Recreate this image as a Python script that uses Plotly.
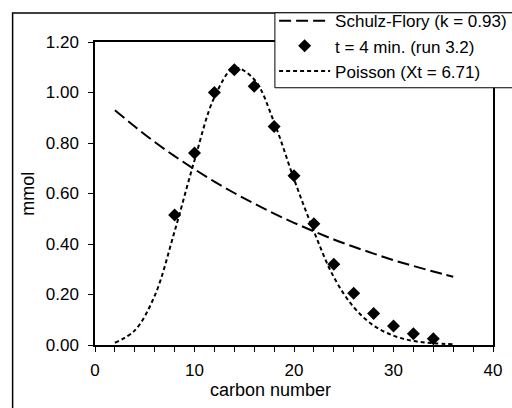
import plotly.graph_objects as go

# Schulz-Flory distribution (k = 0.93), even carbon numbers
carbon_sf = [2, 4, 6, 8, 10, 12, 14, 16, 18, 20, 22, 24, 26, 28, 30, 32, 34, 36]
mmol_sf = [0.930, 0.865, 0.804, 0.748, 0.696, 0.647, 0.602, 0.560, 0.520,
           0.484, 0.450, 0.418, 0.389, 0.362, 0.336, 0.313, 0.291, 0.270]

# Measured product distribution, t = 4 min (run 3.2)
carbon_obs = [8, 10, 12, 14, 16, 18, 20, 22, 24, 26, 28, 30, 32, 34]
mmol_obs = [0.515, 0.76, 1.00, 1.09, 1.025, 0.865, 0.67, 0.48,
            0.32, 0.205, 0.125, 0.075, 0.045, 0.025]

# Poisson distribution (Xt = 6.71)
carbon_poisson = [2, 4, 6, 8, 10, 12, 14, 16, 18, 20, 22, 24, 26, 28, 30, 32, 34, 36]
mmol_poisson = [0.009, 0.058, 0.195, 0.45, 0.731, 0.981, 1.097, 1.052, 0.882,
                0.657, 0.45, 0.269, 0.150, 0.077, 0.037, 0.016, 0.007, 0.003]

FONT = "Liberation Sans, Arial, sans-serif"

fig = go.Figure()
fig.add_trace(go.Scatter(
    x=carbon_sf, y=mmol_sf, mode="lines", name="Schulz-Flory (k = 0.93)",
    line=dict(color="black", width=2, dash="12px,5px", shape="spline"),
    legendrank=1,
))
fig.add_trace(go.Scatter(
    x=carbon_poisson, y=mmol_poisson, mode="lines", name="Poisson (Xt = 6.71)",
    line=dict(color="black", width=2, dash="4px,3px", shape="spline"),
    legendrank=3,
))
fig.add_trace(go.Scatter(
    x=carbon_obs, y=mmol_obs, mode="markers", name="t = 4 min. (run 3.2)",
    marker=dict(symbol="diamond", size=10, color="black"),
    legendrank=2,
))

fig.update_layout(
    width=512, height=408,
    margin=dict(l=95, r=19, t=42, b=63, autoexpand=False),
    paper_bgcolor="white", plot_bgcolor="white",
    font=dict(family=FONT, size=17, color="black"),
    showlegend=True,
    legend=dict(
        x=0.450, y=1.128, xanchor="left", yanchor="top",
        bgcolor="rgba(0,0,0,0)", borderwidth=0,
        font=dict(family=FONT, size=17, color="black"),
        itemwidth=51, tracegroupgap=0,
    ),
    xaxis=dict(
        range=[0, 40], tickmode="linear", tick0=0, dtick=10,
        ticks="outside", ticklen=5, tickwidth=1, tickcolor="black",
        minor=dict(dtick=2, ticks="outside", ticklen=5, tickwidth=1, tickcolor="black"),
        showgrid=False, zeroline=False,
        showline=True, linecolor="black", linewidth=1.5, mirror=True,
        ticklabelstandoff=4,
    ),
    yaxis=dict(
        range=[0, 1.2], tickmode="linear", tick0=0, dtick=0.2, tickformat=".2f",
        ticks="outside", ticklen=5, tickwidth=1, tickcolor="black",
        showgrid=False, zeroline=False,
        showline=True, linecolor="black", linewidth=1.5, mirror=True,
        ticklabelstandoff=6,
    ),
    annotations=[
        dict(text="carbon number", xref="paper", yref="paper", x=0.442, y=-0.150,
             xanchor="center", yanchor="middle", showarrow=False,
             font=dict(family=FONT, size=18, color="black")),
        dict(text="mmol", xref="paper", yref="paper", x=-0.170, y=0.5,
             xanchor="center", yanchor="middle", textangle=-90, showarrow=False,
             font=dict(family=FONT, size=18, color="black")),
    ],
    shapes=[
        # chart-area frame (left and top edges; the rest runs off the page)
        dict(type="rect", xref="paper", yref="paper", x0=-0.207, x1=1.2, y0=-0.5, y1=1.096,
             line=dict(color="black", width=1.5), fillcolor="rgba(0,0,0,0)", layer="below"),
        # legend box, covering the top of the plot frame
        dict(type="rect", xref="paper", yref="paper", x0=0.452, x1=1.07, y0=0.849, y1=1.0963,
             line=dict(color="black", width=1), fillcolor="white", layer="above"),
    ],
)

fig.write_html("out.html")
